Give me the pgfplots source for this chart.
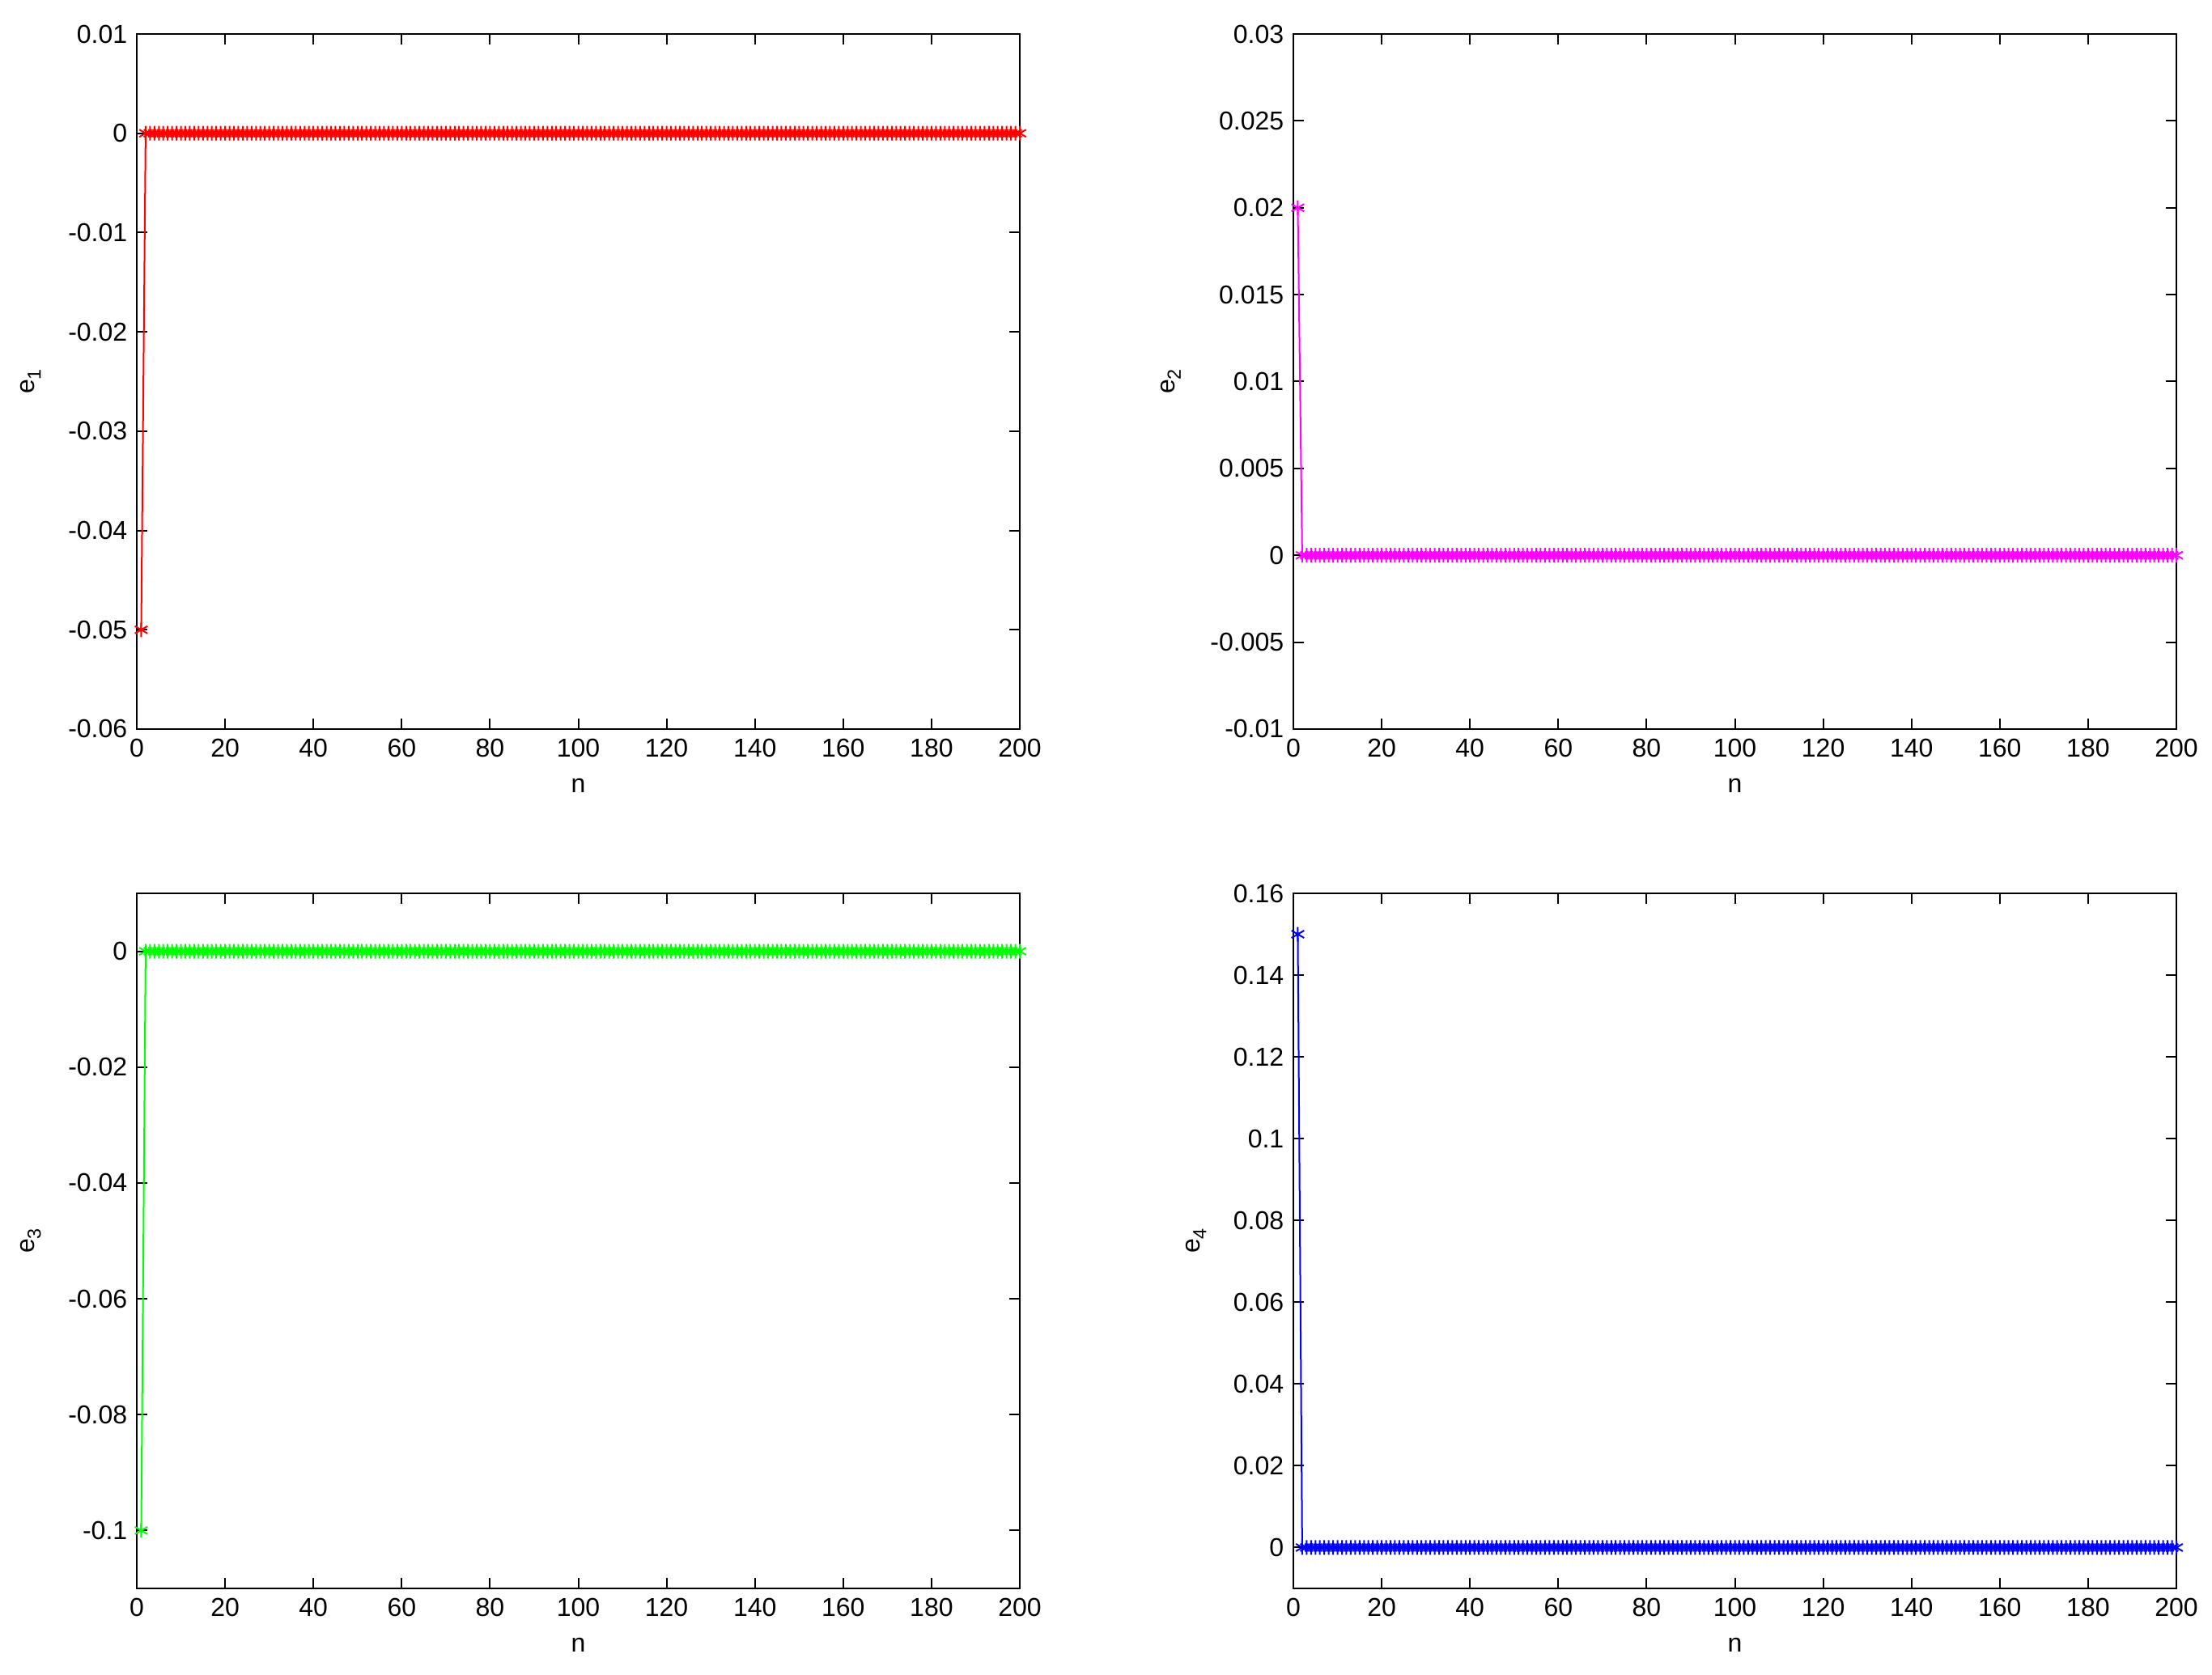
\documentclass[border=0pt]{standalone}
\usepackage{pgfplots}
\usepackage{pgfplotstable}
\pgfplotsset{compat=1.18}
\usepackage{fontspec}
\setmainfont{Liberation Sans}
\pgfplotstableread{
n e1 e2 e3 e4
1 -0.05 0.02 -0.1 0.15
2 0 0 0 0
3 0 0 0 0
4 0 0 0 0
5 0 0 0 0
6 0 0 0 0
7 0 0 0 0
8 0 0 0 0
9 0 0 0 0
10 0 0 0 0
11 0 0 0 0
12 0 0 0 0
13 0 0 0 0
14 0 0 0 0
15 0 0 0 0
16 0 0 0 0
17 0 0 0 0
18 0 0 0 0
19 0 0 0 0
20 0 0 0 0
21 0 0 0 0
22 0 0 0 0
23 0 0 0 0
24 0 0 0 0
25 0 0 0 0
26 0 0 0 0
27 0 0 0 0
28 0 0 0 0
29 0 0 0 0
30 0 0 0 0
31 0 0 0 0
32 0 0 0 0
33 0 0 0 0
34 0 0 0 0
35 0 0 0 0
36 0 0 0 0
37 0 0 0 0
38 0 0 0 0
39 0 0 0 0
40 0 0 0 0
41 0 0 0 0
42 0 0 0 0
43 0 0 0 0
44 0 0 0 0
45 0 0 0 0
46 0 0 0 0
47 0 0 0 0
48 0 0 0 0
49 0 0 0 0
50 0 0 0 0
51 0 0 0 0
52 0 0 0 0
53 0 0 0 0
54 0 0 0 0
55 0 0 0 0
56 0 0 0 0
57 0 0 0 0
58 0 0 0 0
59 0 0 0 0
60 0 0 0 0
61 0 0 0 0
62 0 0 0 0
63 0 0 0 0
64 0 0 0 0
65 0 0 0 0
66 0 0 0 0
67 0 0 0 0
68 0 0 0 0
69 0 0 0 0
70 0 0 0 0
71 0 0 0 0
72 0 0 0 0
73 0 0 0 0
74 0 0 0 0
75 0 0 0 0
76 0 0 0 0
77 0 0 0 0
78 0 0 0 0
79 0 0 0 0
80 0 0 0 0
81 0 0 0 0
82 0 0 0 0
83 0 0 0 0
84 0 0 0 0
85 0 0 0 0
86 0 0 0 0
87 0 0 0 0
88 0 0 0 0
89 0 0 0 0
90 0 0 0 0
91 0 0 0 0
92 0 0 0 0
93 0 0 0 0
94 0 0 0 0
95 0 0 0 0
96 0 0 0 0
97 0 0 0 0
98 0 0 0 0
99 0 0 0 0
100 0 0 0 0
101 0 0 0 0
102 0 0 0 0
103 0 0 0 0
104 0 0 0 0
105 0 0 0 0
106 0 0 0 0
107 0 0 0 0
108 0 0 0 0
109 0 0 0 0
110 0 0 0 0
111 0 0 0 0
112 0 0 0 0
113 0 0 0 0
114 0 0 0 0
115 0 0 0 0
116 0 0 0 0
117 0 0 0 0
118 0 0 0 0
119 0 0 0 0
120 0 0 0 0
121 0 0 0 0
122 0 0 0 0
123 0 0 0 0
124 0 0 0 0
125 0 0 0 0
126 0 0 0 0
127 0 0 0 0
128 0 0 0 0
129 0 0 0 0
130 0 0 0 0
131 0 0 0 0
132 0 0 0 0
133 0 0 0 0
134 0 0 0 0
135 0 0 0 0
136 0 0 0 0
137 0 0 0 0
138 0 0 0 0
139 0 0 0 0
140 0 0 0 0
141 0 0 0 0
142 0 0 0 0
143 0 0 0 0
144 0 0 0 0
145 0 0 0 0
146 0 0 0 0
147 0 0 0 0
148 0 0 0 0
149 0 0 0 0
150 0 0 0 0
151 0 0 0 0
152 0 0 0 0
153 0 0 0 0
154 0 0 0 0
155 0 0 0 0
156 0 0 0 0
157 0 0 0 0
158 0 0 0 0
159 0 0 0 0
160 0 0 0 0
161 0 0 0 0
162 0 0 0 0
163 0 0 0 0
164 0 0 0 0
165 0 0 0 0
166 0 0 0 0
167 0 0 0 0
168 0 0 0 0
169 0 0 0 0
170 0 0 0 0
171 0 0 0 0
172 0 0 0 0
173 0 0 0 0
174 0 0 0 0
175 0 0 0 0
176 0 0 0 0
177 0 0 0 0
178 0 0 0 0
179 0 0 0 0
180 0 0 0 0
181 0 0 0 0
182 0 0 0 0
183 0 0 0 0
184 0 0 0 0
185 0 0 0 0
186 0 0 0 0
187 0 0 0 0
188 0 0 0 0
189 0 0 0 0
190 0 0 0 0
191 0 0 0 0
192 0 0 0 0
193 0 0 0 0
194 0 0 0 0
195 0 0 0 0
196 0 0 0 0
197 0 0 0 0
198 0 0 0 0
199 0 0 0 0
200 0 0 0 0
}\errtab
\pgfplotsset{
  mstyle/.style={
    width=327.3pt, height=257.7pt, scale only axis,
    anchor=south west,
    xmin=0, xmax=200, xtick={0,20,...,200},
    scaled y ticks=false, scaled x ticks=false,
    tick align=inside, major tick length=3.9pt,
    axis line style={line width=0.6pt},
    every tick/.style={black, line width=0.6pt},
    tick label style={font=\fontsize{9.6}{11}\selectfont},
    label style={font=\fontsize{9.6}{11}\selectfont},
    /pgf/number format/assume math mode=true,
    clip=false,
    xlabel={n},
    xlabel style={at={(axis description cs:0.5,-0.0815)}, anchor=center},
  },
  pstyle/.style={line width=0.6pt, mark=asterisk, mark size=2.7pt, mark options={line width=0.6pt}},
}
\definecolor{mred}{rgb}{1,0,0}
\definecolor{mmag}{rgb}{1,0,1}
\definecolor{mgreen}{rgb}{0,1,0}
\definecolor{mblue}{rgb}{0,0,1}
\newcommand{\esub}[1]{e\raisebox{-0.45ex}{\fontsize{7}{8}\selectfont #1}}
\begin{document}
\begin{tikzpicture}
\useasboundingbox (0,0) rectangle (819.9pt,621pt);
% top-left
\begin{axis}[mstyle, at={(50.7pt,350.7pt)},
  ymin=-0.06, ymax=0.01,
  ytick={-0.06,-0.05,-0.04,-0.03,-0.02,-0.01,0,0.01},
  yticklabels={-0.06,-0.05,-0.04,-0.03,-0.02,-0.01,0,0.01},
  ylabel={\esub{1}},
  ylabel style={at={(axis description cs:-0.120,0.5)}, anchor=center}]
\addplot[pstyle, color=mred] table[x=n, y=e1] {\errtab};
\end{axis}
% top-right
\begin{axis}[mstyle, at={(479.4pt,350.7pt)},
  ymin=-0.01, ymax=0.03,
  ytick={-0.01,-0.005,0,0.005,0.01,0.015,0.02,0.025,0.03},
  yticklabels={-0.01,-0.005,0,0.005,0.01,0.015,0.02,0.025,0.03},
  ylabel={\esub{2}},
  ylabel style={at={(axis description cs:-0.139,0.5)}, anchor=center}]
\addplot[pstyle, color=mmag] table[x=n, y=e2] {\errtab};
\end{axis}
% bottom-left
\begin{axis}[mstyle, at={(50.7pt,32.1pt)},
  ymin=-0.11, ymax=0.01,
  ytick={-0.1,-0.08,-0.06,-0.04,-0.02,0},
  yticklabels={-0.1,-0.08,-0.06,-0.04,-0.02,0},
  ylabel={\esub{3}},
  ylabel style={at={(axis description cs:-0.120,0.5)}, anchor=center}]
\addplot[pstyle, color=mgreen] table[x=n, y=e3] {\errtab};
\end{axis}
% bottom-right
\begin{axis}[mstyle, at={(479.4pt,32.1pt)},
  ymin=-0.01, ymax=0.16,
  ytick={0,0.02,0.04,0.06,0.08,0.1,0.12,0.14,0.16},
  yticklabels={0,0.02,0.04,0.06,0.08,0.1,0.12,0.14,0.16},
  ylabel={\esub{4}},
  ylabel style={at={(axis description cs:-0.110,0.5)}, anchor=center}]
\addplot[pstyle, color=mblue] table[x=n, y=e4] {\errtab};
\end{axis}
\end{tikzpicture}
\end{document}
